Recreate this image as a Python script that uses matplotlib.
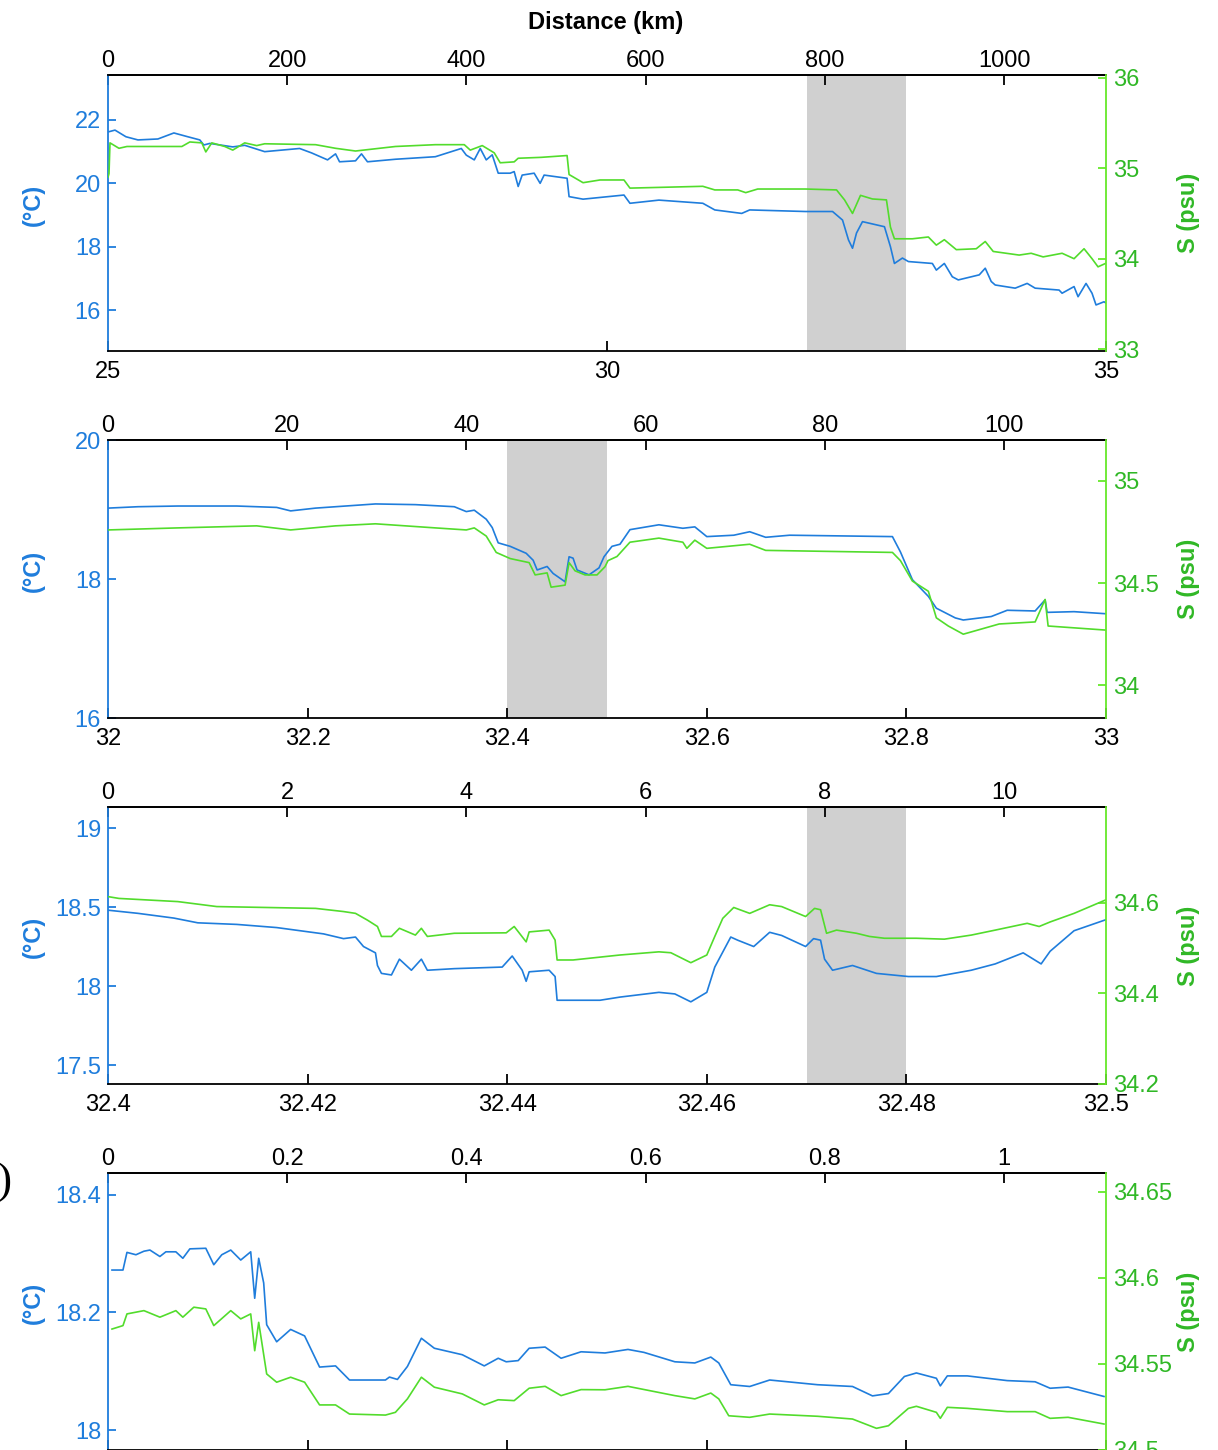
import matplotlib.pyplot as plt
from matplotlib.ticker import FuncFormatter

plt.rcParams['font.family'] = ['Liberation Sans', 'DejaVu Sans']
plt.rcParams['font.size'] = 17

BLUE = '#1f7ddc'
GREEN = '#52dc2c'
GREEN_AXIS = '#66e82a'
GREEN_TEXT = '#30b826'
BAND = '#d0d0d0'
KM_PER_DEG = 111.36

# panel (a): latitude 25-35
a_lat_t = [25.00, 25.01, 25.07, 25.18, 25.30, 25.50, 25.66, 25.80, 25.92, 25.96,
           26.02, 26.25, 26.37, 26.57, 26.92, 27.04, 27.20, 27.28, 27.32, 27.48,
           27.54, 27.60, 27.88, 28.28, 28.44, 28.54, 28.59, 28.67, 28.73, 28.79,
           28.85, 28.91, 29.03, 29.07, 29.11, 29.15, 29.27, 29.33, 29.37, 29.60,
           29.62, 29.76, 30.17, 30.23, 30.52, 30.96, 31.08, 31.35, 31.43, 31.99,
           32.26, 32.36, 32.42, 32.46, 32.50, 32.56, 32.78, 32.84, 32.88, 32.96,
           33.02, 33.26, 33.30, 33.38, 33.46, 33.52, 33.73, 33.79, 33.85, 33.89,
           34.09, 34.21, 34.29, 34.53, 34.56, 34.68, 34.72, 34.80, 34.86, 34.90,
           34.98, 35.00]
a_temp = [21.63, 21.63, 21.68, 21.47, 21.37, 21.40, 21.59, 21.47, 21.37, 21.21,
          21.26, 21.15, 21.20, 21.00, 21.10, 20.96, 20.74, 20.93, 20.68, 20.71,
          20.93, 20.68, 20.76, 20.84, 21.00, 21.10, 20.89, 20.74, 21.10, 20.74,
          20.90, 20.32, 20.32, 20.37, 19.90, 20.26, 20.32, 20.00, 20.26, 20.16,
          19.58, 19.50, 19.63, 19.37, 19.47, 19.37, 19.16, 19.05, 19.16, 19.11,
          19.11, 18.84, 18.21, 17.95, 18.43, 18.79, 18.63, 18.00, 17.47, 17.64,
          17.53, 17.47, 17.26, 17.47, 17.05, 16.95, 17.11, 17.32, 16.90, 16.79,
          16.69, 16.84, 16.69, 16.63, 16.53, 16.74, 16.42, 16.84, 16.53, 16.16,
          16.26, 16.22]
a_lat_s = [25.00, 25.01, 25.02, 25.11, 25.19, 25.74, 25.82, 25.94, 25.98, 26.04,
           26.17, 26.25, 26.37, 26.49, 26.57, 27.08, 27.28, 27.48, 27.88, 28.28,
           28.57, 28.63, 28.75, 28.87, 28.93, 29.07, 29.11, 29.34, 29.60, 29.62,
           29.76, 29.93, 30.17, 30.23, 30.96, 31.08, 31.31, 31.39, 31.51, 31.99,
           32.30, 32.38, 32.46, 32.54, 32.66, 32.80, 32.84, 32.88, 33.06, 33.22,
           33.30, 33.38, 33.50, 33.70, 33.79, 33.87, 34.13, 34.25, 34.37, 34.56,
           34.68, 34.78, 34.86, 34.92, 35.00]
a_sal = [34.90, 34.94, 35.28, 35.22, 35.24, 35.24, 35.29, 35.28, 35.18, 35.28,
         35.24, 35.20, 35.28, 35.25, 35.27, 35.26, 35.22, 35.19, 35.24, 35.26,
         35.26, 35.20, 35.25, 35.17, 35.06, 35.07, 35.11, 35.12, 35.14, 34.93,
         34.84, 34.87, 34.87, 34.78, 34.80, 34.76, 34.76, 34.73, 34.77, 34.77,
         34.76, 34.65, 34.50, 34.70, 34.66, 34.65, 34.35, 34.22, 34.22, 34.24,
         34.15, 34.21, 34.10, 34.11, 34.19, 34.08, 34.04, 34.06, 34.02, 34.06,
         34.00, 34.11, 34.00, 33.91, 33.95]

# panel (b): latitude 32-33
b_lat_t = [32.000, 32.030, 32.070, 32.129, 32.169, 32.183, 32.208, 32.268, 32.308, 32.347,
           32.359, 32.367, 32.379, 32.385, 32.391, 32.403, 32.419, 32.426, 32.430, 32.440,
           32.446, 32.458, 32.462, 32.466, 32.470, 32.482, 32.492, 32.497, 32.505, 32.513,
           32.523, 32.552, 32.576, 32.588, 32.600, 32.627, 32.643, 32.659, 32.683, 32.786,
           32.794, 32.806, 32.822, 32.830, 32.849, 32.857, 32.885, 32.901, 32.929, 32.939,
           32.941, 32.968, 33.000]
b_temp = [19.02, 19.04, 19.05, 19.05, 19.03, 18.98, 19.02, 19.08, 19.07, 19.04,
          18.97, 18.99, 18.86, 18.74, 18.52, 18.47, 18.37, 18.27, 18.13, 18.18,
          18.08, 17.96, 18.32, 18.30, 18.13, 18.06, 18.16, 18.32, 18.47, 18.50,
          18.71, 18.78, 18.73, 18.75, 18.61, 18.63, 18.68, 18.60, 18.63, 18.61,
          18.39, 17.99, 17.75, 17.58, 17.44, 17.41, 17.46, 17.55, 17.54, 17.70,
          17.52, 17.53, 17.50]
b_lat_s = [32.000, 32.070, 32.149, 32.183, 32.228, 32.268, 32.328, 32.359, 32.367, 32.379,
           32.389, 32.403, 32.422, 32.428, 32.440, 32.444, 32.458, 32.462, 32.468, 32.478,
           32.490, 32.498, 32.501, 32.510, 32.523, 32.552, 32.576, 32.580, 32.588, 32.600,
           32.643, 32.659, 32.786, 32.794, 32.806, 32.822, 32.830, 32.842, 32.857, 32.893,
           32.929, 32.939, 32.942, 33.000]
b_sal = [34.76, 34.77, 34.78, 34.76, 34.78, 34.79, 34.77, 34.76, 34.77, 34.73,
         34.65, 34.62, 34.60, 34.54, 34.55, 34.48, 34.49, 34.60, 34.56, 34.54,
         34.54, 34.58, 34.61, 34.63, 34.70, 34.72, 34.70, 34.67, 34.71, 34.67,
         34.69, 34.66, 34.65, 34.61, 34.51, 34.46, 34.33, 34.29, 34.25, 34.30,
         34.31, 34.42, 34.29, 34.27]

# panel (c): latitude 32.4-32.5
c_lat_t = [32.4000, 32.4030, 32.4066, 32.4090, 32.4129, 32.4169, 32.4216, 32.4236, 32.4248, 32.4256,
           32.4268, 32.4270, 32.4274, 32.4284, 32.4292, 32.4304, 32.4314, 32.4320, 32.4347, 32.4395,
           32.4405, 32.4415, 32.4419, 32.4422, 32.4442, 32.4448, 32.4450, 32.4466, 32.4493, 32.4513,
           32.4552, 32.4568, 32.4584, 32.4600, 32.4608, 32.4624, 32.4631, 32.4647, 32.4663, 32.4675,
           32.4699, 32.4707, 32.4714, 32.4718, 32.4726, 32.4746, 32.4770, 32.4802, 32.4830, 32.4865,
           32.4889, 32.4917, 32.4935, 32.4944, 32.4968, 32.5000]
c_temp = [18.48, 18.46, 18.43, 18.40, 18.39, 18.37, 18.33, 18.30, 18.31, 18.25,
          18.21, 18.13, 18.08, 18.07, 18.17, 18.10, 18.17, 18.10, 18.11, 18.12,
          18.19, 18.10, 18.03, 18.09, 18.10, 18.06, 17.91, 17.91, 17.91, 17.93,
          17.96, 17.95, 17.90, 17.96, 18.12, 18.31, 18.29, 18.25, 18.34, 18.32,
          18.25, 18.30, 18.29, 18.17, 18.10, 18.13, 18.08, 18.06, 18.06, 18.10,
          18.14, 18.21, 18.14, 18.22, 18.35, 18.42]
c_lat_s = [32.4000, 32.4011, 32.4070, 32.4109, 32.4208, 32.4236, 32.4248, 32.4260, 32.4270, 32.4274,
           32.4284, 32.4292, 32.4308, 32.4314, 32.4320, 32.4347, 32.4399, 32.4407, 32.4419, 32.4422,
           32.4442, 32.4448, 32.4450, 32.4466, 32.4513, 32.4552, 32.4564, 32.4584, 32.4600, 32.4608,
           32.4616, 32.4627, 32.4643, 32.4663, 32.4675, 32.4699, 32.4708, 32.4714, 32.4720, 32.4730,
           32.4750, 32.4763, 32.4778, 32.4810, 32.4838, 32.4865, 32.4889, 32.4921, 32.4933, 32.4944,
           32.4968, 32.5000]
c_sal = [34.614, 34.610, 34.603, 34.592, 34.588, 34.581, 34.577, 34.562, 34.548, 34.526,
         34.526, 34.544, 34.529, 34.544, 34.526, 34.533, 34.534, 34.548, 34.514, 34.536,
         34.540, 34.518, 34.474, 34.474, 34.485, 34.492, 34.490, 34.468, 34.485, 34.526,
         34.566, 34.590, 34.577, 34.596, 34.592, 34.570, 34.588, 34.585, 34.533, 34.540,
         34.533, 34.526, 34.522, 34.522, 34.520, 34.529, 34.540, 34.555, 34.548, 34.558,
         34.577, 34.607]

# panel (d): latitude 32.47-32.48
d_lat_t = [32.47004, 32.47015, 32.47019, 32.47028, 32.47036, 32.47042, 32.47052, 32.47058, 32.47068, 32.47075,
           32.47082, 32.47098, 32.47106, 32.47114, 32.47123, 32.47133, 32.47143, 32.47147, 32.47151, 32.47156,
           32.47159, 32.47169, 32.47183, 32.47197, 32.47212, 32.47228, 32.47242, 32.47278, 32.47282, 32.47290,
           32.47300, 32.47314, 32.47327, 32.47355, 32.47377, 32.47391, 32.47399, 32.47411, 32.47422, 32.47438,
           32.47454, 32.47474, 32.47498, 32.47521, 32.47537, 32.47568, 32.47588, 32.47604, 32.47612, 32.47624,
           32.47643, 32.47663, 32.47711, 32.47746, 32.47766, 32.47782, 32.47798, 32.47810, 32.47830, 32.47834,
           32.47841, 32.47861, 32.47901, 32.47929, 32.47944, 32.47962, 32.47998]
d_temp = [18.272, 18.272, 18.302, 18.298, 18.304, 18.306, 18.295, 18.303, 18.303, 18.292,
          18.308, 18.309, 18.281, 18.298, 18.306, 18.289, 18.303, 18.224, 18.292, 18.250,
          18.179, 18.150, 18.171, 18.160, 18.107, 18.109, 18.085, 18.085, 18.090, 18.086,
          18.108, 18.156, 18.139, 18.128, 18.109, 18.122, 18.116, 18.118, 18.139, 18.141,
          18.122, 18.133, 18.131, 18.137, 18.132, 18.116, 18.114, 18.124, 18.114, 18.077,
          18.074, 18.085, 18.077, 18.074, 18.058, 18.062, 18.091, 18.097, 18.088, 18.075,
          18.092, 18.092, 18.084, 18.082, 18.071, 18.073, 18.057]
d_lat_s = [32.47004, 32.47015, 32.47019, 32.47036, 32.47052, 32.47068, 32.47075, 32.47086, 32.47098, 32.47106,
           32.47123, 32.47133, 32.47143, 32.47147, 32.47151, 32.47159, 32.47169, 32.47183, 32.47197, 32.47212,
           32.47228, 32.47242, 32.47278, 32.47288, 32.47300, 32.47314, 32.47327, 32.47355, 32.47377, 32.47391,
           32.47407, 32.47422, 32.47438, 32.47454, 32.47474, 32.47498, 32.47521, 32.47568, 32.47588, 32.47604,
           32.47612, 32.47622, 32.47643, 32.47663, 32.47711, 32.47746, 32.47770, 32.47782, 32.47802, 32.47810,
           32.47830, 32.47834, 32.47841, 32.47861, 32.47901, 32.47929, 32.47944, 32.47962, 32.47998]
d_sal = [34.5703, 34.5723, 34.5791, 34.5810, 34.5772, 34.5810, 34.5772, 34.5830, 34.5820, 34.5723,
         34.5810, 34.5762, 34.5791, 34.5577, 34.5742, 34.5442, 34.5394, 34.5423, 34.5394, 34.5262,
         34.5262, 34.5209, 34.5203, 34.5219, 34.5297, 34.5423, 34.5365, 34.5326, 34.5262, 34.5292,
         34.5287, 34.5359, 34.5370, 34.5316, 34.5351, 34.5350, 34.5370, 34.5316, 34.5297, 34.5331,
         34.5297, 34.5199, 34.5190, 34.5209, 34.5196, 34.5180, 34.5126, 34.5141, 34.5242, 34.5254,
         34.5219, 34.5184, 34.5248, 34.5242, 34.5223, 34.5223, 34.5184, 34.5190, 34.5151]

fmt = FuncFormatter(lambda v, p: f'{v:g}')

fig = plt.figure(figsize=(12.18, 14.5), dpi=100)


def panel(rect, lat_t, temp, lat_s, sal, xlim, xticks, dticks, tlim, tticks, slim, sticks,
          band=None, bottom_labels=True):
    ax = fig.add_axes(rect)
    if band is not None:
        ax.axvspan(band[0], band[1], color=BAND, lw=0, zorder=0)
    ax.plot(lat_t, temp, color=BLUE, lw=1.2)
    ax.set_xlim(xlim)
    ax.set_ylim(tlim)
    ax.set_xticks(xticks)
    ax.set_yticks(tticks)
    ax.xaxis.set_major_formatter(fmt)
    ax.yaxis.set_major_formatter(fmt)
    ax.tick_params(axis='x', direction='in', length=7, width=1.3, pad=7, colors='black',
                   labelbottom=bottom_labels)
    ax.tick_params(axis='y', direction='in', length=6, width=1.3, pad=5, colors=BLUE)
    for s in ('top', 'bottom'):
        ax.spines[s].set_linewidth(1.3)
    ax.spines['left'].set_color(BLUE)
    ax.spines['left'].set_linewidth(1.3)
    ax.spines['right'].set_visible(False)
    ax.set_ylabel('(°C)', color=BLUE, weight='bold')
    ax.yaxis.set_label_coords(-0.063, 0.53)

    ax2 = ax.twinx()
    ax2.plot(lat_s, sal, color=GREEN, lw=1.2)
    ax2.set_ylim(slim)
    ax2.set_yticks(sticks)
    ax2.yaxis.set_major_formatter(fmt)
    ax2.tick_params(axis='y', direction='in', length=6, width=1.3, pad=5,
                    color=GREEN_AXIS, labelcolor=GREEN_TEXT)
    for s in ('left', 'top', 'bottom'):
        ax2.spines[s].set_visible(False)
    ax2.spines['right'].set_color(GREEN_AXIS)
    ax2.spines['right'].set_linewidth(1.3)
    ax2.set_ylabel('S (psu)', color=GREEN_TEXT, weight='bold')
    ax2.yaxis.set_label_coords(1.071, 0.5)

    lat0 = xlim[0]
    top = ax.secondary_xaxis('top', functions=(lambda x: (x - lat0) * KM_PER_DEG,
                                               lambda d: lat0 + d / KM_PER_DEG))
    top.set_xticks(dticks)
    top.xaxis.set_major_formatter(fmt)
    top.tick_params(axis='x', direction='in', length=7, width=1.3, pad=2)
    top.spines['top'].set_linewidth(1.3)
    return ax


L, W = 108 / 1218, 998 / 1218

panel([L, 1 - 351 / 1450, W, 276 / 1450], a_lat_t, a_temp, a_lat_s, a_sal,
      (25, 35), [25, 30, 35], [0, 200, 400, 600, 800, 1000],
      (14.706, 23.42), [16, 18, 20, 22], (32.98, 36.03), [33, 34, 35, 36], band=(32, 33))

panel([L, 1 - 718 / 1450, W, 278 / 1450], b_lat_t, b_temp, b_lat_s, b_sal,
      (32, 33), [32, 32.2, 32.4, 32.6, 32.8, 33], [0, 20, 40, 60, 80, 100],
      (16, 20), [16, 18, 20], (33.84, 35.2), [34, 34.5, 35], band=(32.4, 32.5))

panel([L, 1 - 1084 / 1450, W, 277 / 1450], c_lat_t, c_temp, c_lat_s, c_sal,
      (32.4, 32.5), [32.4, 32.42, 32.44, 32.46, 32.48, 32.5], [0, 2, 4, 6, 8, 10],
      (17.38, 19.133), [17.5, 18, 18.5, 19], (34.2, 34.812), [34.2, 34.4, 34.6], band=(32.47, 32.48))

# bottom panel runs off the lower edge of the page, so its latitude labels are not shown
panel([L, 0, W, 277 / 1450], d_lat_t, d_temp, d_lat_s, d_sal,
      (32.47, 32.48), [32.47, 32.472, 32.474, 32.476, 32.478, 32.48], [0, 0.2, 0.4, 0.6, 0.8, 1],
      (17.966, 18.437), [18, 18.2, 18.4], (34.5, 34.661), [34.5, 34.55, 34.6, 34.65],
      bottom_labels=False)

fig.text(606 / 1218, 1 - 22 / 1450, 'Distance (km)', ha='center', va='center', weight='bold')
fig.text(12 / 1218, 1 - 1182 / 1450, '(d)', ha='right', va='center', fontsize=32,
         family=['Liberation Serif', 'DejaVu Serif'])

fig.savefig('out.png', dpi=100)
